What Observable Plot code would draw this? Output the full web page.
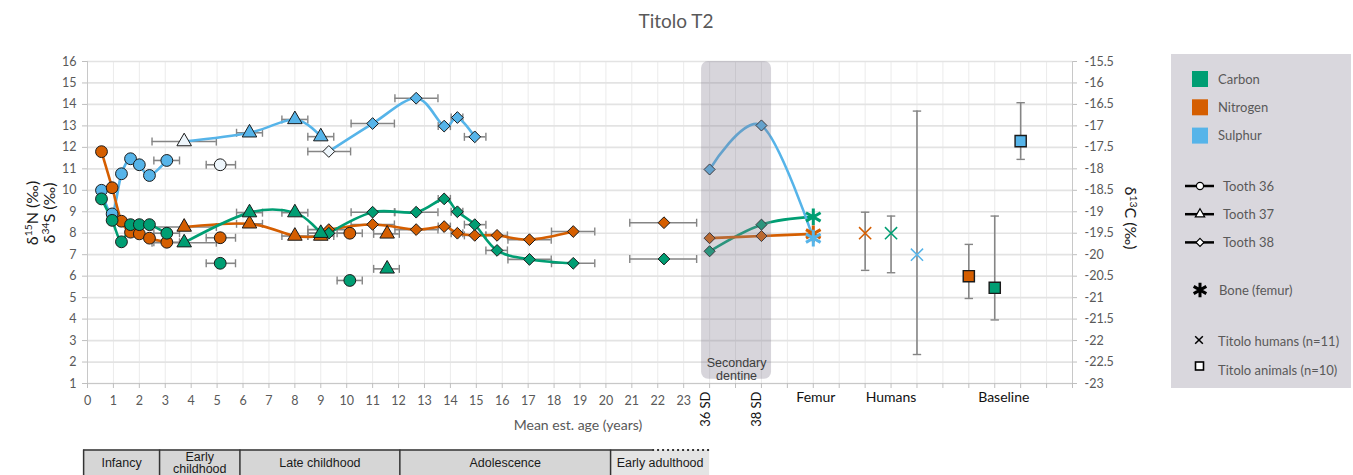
<!DOCTYPE html>
<html><head><meta charset="utf-8">
<script src="https://cdn.jsdelivr.net/npm/d3@7"></script>
<script src="https://cdn.jsdelivr.net/npm/@observablehq/plot@0.6"></script>
<style>
body{margin:0;background:#fff;font-family:Lato,sans-serif;}
#wrap{position:relative;width:1353px;height:475px;overflow:hidden;}
.abs{position:absolute;white-space:nowrap;}
.sup{font-size:0.65em;vertical-align:0.55em;}
</style></head><body><div id="wrap"></div>
<script>
// ---------------- DATA ----------------
const elements = ["Carbon", "Nitrogen", "Sulphur"];
const elementColors = ["#009E73", "#D55E00", "#56B4E9"];

// Tooth 36 (circles)
const t36Age    = [0.54, 0.95, 1.31, 1.66, 2.00, 2.39, 3.06, 5.12, 10.12];
const t36AgeMin = [null, null, null, null, null, null, 2.56, 4.58, 9.63];
const t36AgeMax = [null, null, null, null, null, null, 3.55, 5.71, 10.60];
const t36C = [-18.70, -19.20, -19.70, -19.30, -19.30, -19.30, -19.50, -20.20, -20.60];
const t36N = [11.80, 10.12, 8.56, 8.05, 7.97, 7.77, 7.58, 7.79, 8.00];
const t36S = [10.00, 8.90, 10.77, 11.47, 11.19, 10.69, 11.39, 11.19, null];
const t36Joined = 7;          // first samples joined by a line
const t36SPale = [7];         // pale (unfilled) sulphur samples

// Tooth 37 (triangles)
const t37Age    = [3.73, 6.25, 8.00, 9.00, 11.56];
const t37AgeMin = [2.49, 5.75, 7.50, 8.50, 11.04];
const t37AgeMax = [4.97, 6.75, 8.50, 9.50, 12.03];
const t37C = [-19.72, -19.02, -19.02, -19.50, -20.33];
const t37N = [8.29, 8.44, 7.87, 7.87, 7.97];
const t37S = [12.27, 12.68, 13.30, 12.50, null];
const t37Joined = 4;
const t37SPale = [0];

// Tooth 38 (diamonds)
const t38Age    = [9.31, 11.00, 12.68, 13.76, 14.27, 14.94, 15.80, 17.05, 18.74, 22.24];
const t38AgeMin = [8.50, 10.17, 11.86, 13.53, 14.03, 14.54, 15.37, 16.22, 17.90, 20.92];
const t38AgeMax = [10.15, 11.84, 13.52, 14.00, 14.48, 15.37, 16.20, 17.89, 19.57, 23.50];
const t38C = [-19.50, -19.01, -19.01, -18.70, -19.00, -19.30, -19.90, -20.11, -20.20, -20.10];
const t38N = [8.17, 8.41, 8.17, 8.31, 8.00, 7.90, 7.90, 7.70, 8.08, 8.49];
const t38S = [11.81, 13.11, 14.29, 12.99, 13.39, 12.49, null, null, null, null];
const t38Joined = 9;
const t38SJoined = 6;
const t38SPale = [0];

// Secondary dentine and femur
const sdLabels = ["36 SD", "38 SD", "Femur"];
const sdC = [-19.92, -19.30, -19.12];
const sdN = [7.77, 7.87, 7.97];
const sdS = [10.97, 13.02, 7.77];

// Titolo humans (n=11) and animals (n=10): mean, low, high  [C, N, S]
const humanMean = [-19.50, 8.00, 7.00];
const humanLow  = [-20.42, 6.27, 2.35];
const humanHigh = [-19.10, 8.98, 13.69];
const baseMean  = [-20.77, 6.00, 12.29];
const baseLow   = [-21.52, 4.96, 11.44];
const baseHigh  = [-19.10, 7.48, 14.08];

// Axis ticks / labels
const leftTicks = d3.range(1, 17);
const ageTicks = d3.range(0, 24);
const groupLabels = ["Femur", "Humans", "Baseline"];

// Life stages (years)
const stageNames = ["Infancy", "Early\nchildhood", "Late childhood", "Adolescence", "Early adulthood"];
const stageStart = [-0.15, 2.78, 5.88, 12.05, 20.18];
const stageEnd   = [2.78, 5.88, 12.05, 20.18, 24.0];

// ---------------- HELPERS ----------------
// carbon (right axis, ‰) expressed on the left-axis scale
const toLeft = (el, v) => el === "Carbon" ? 2 * v + 47 : v;
const fromLeft = (L) => (L - 47) / 2;

function build(tooth, ages, mins, maxs, vals, joined, pale) {
  const out = [];
  for (const el of ["Sulphur", "Nitrogen", "Carbon"]) {
    vals[el].forEach((v, i) => {
      if (v == null) return;
      out.push({tooth, element: el, age: ages[i], ageMin: mins[i], ageMax: maxs[i],
        y: toLeft(el, v), joined: i < joined[el], pale: (pale[el] || []).includes(i)});
    });
  }
  return out;
}
const t36 = build("36", t36Age, t36AgeMin, t36AgeMax, {Carbon: t36C, Nitrogen: t36N, Sulphur: t36S},
  {Carbon: t36Joined, Nitrogen: t36Joined, Sulphur: t36Joined}, {Sulphur: t36SPale});
const t37 = build("37", t37Age, t37AgeMin, t37AgeMax, {Carbon: t37C, Nitrogen: t37N, Sulphur: t37S},
  {Carbon: t37Joined, Nitrogen: t37Joined, Sulphur: t37Joined}, {Sulphur: t37SPale});
const t38 = build("38", t38Age, t38AgeMin, t38AgeMax, {Carbon: t38C, Nitrogen: t38N, Sulphur: t38S},
  {Carbon: t38Joined, Nitrogen: t38Joined, Sulphur: t38SJoined}, {Sulphur: t38SPale});
const teeth = [...t36, ...t37, ...t38];
const errRows = teeth.filter(d => d.ageMin != null);
const lineRows = teeth.filter(d => d.joined);

// category slots on the x axis (layout)
const sdSlot = [24, 26, 28];
const humanSlot = [31, 30, 32];
const baseSlot = [35, 34, 36];
const groupSlot = [28.1, 31, 35.35];

const sdRows = [];
[["Carbon", sdC], ["Nitrogen", sdN], ["Sulphur", sdS]].forEach(([el, arr]) =>
  arr.forEach((v, i) => sdRows.push({element: el, x: sdSlot[i], y: toLeft(el, v), femur: i === 2})));
const refRows = (mean, low, high, slot, kind) => elements.map((el, i) => ({
  element: el, kind, x: slot[i], y: toLeft(el, mean[i]), lo: toLeft(el, low[i]), hi: toLeft(el, high[i])}));
const humanRows = refRows(humanMean, humanLow, humanHigh, humanSlot, "human");
const baseRows = refRows(baseMean, baseLow, baseHigh, baseSlot, "base");
const refAll = [...humanRows, ...baseRows];

const stages = stageNames.map((n, i) => ({name: n, start: stageStart[i], end: stageEnd[i], last: i === stageNames.length - 1}));

// custom cap symbols
const vCap = {draw(ctx, size) { const r = Math.sqrt(size / Math.PI); ctx.moveTo(0, -r); ctx.lineTo(0, r); }};
const hCap = {draw(ctx, size) { const r = Math.sqrt(size / Math.PI); ctx.moveTo(-r, 0); ctx.lineTo(r, 0); }};

const ERR = "#858585";
const INK = "#1a1a1a";

function pts(tooth, symbol, r) {
  const rows = teeth.filter(d => d.tooth === tooth);
  return [
    Plot.dot(rows.filter(d => !d.pale), {x: "age", y: "y", symbol, r, fill: "element", stroke: INK, strokeWidth: 1}),
    Plot.dot(rows.filter(d => d.pale), {x: "age", y: "y", symbol, r, fill: "#eef6fc", stroke: INK, strokeWidth: 1})
  ];
}

// stage band vertical placement (below frame, in left-axis units)
const stageTop = -2.1, stageBottom = -3.8;

const chart = Plot.plot({
  width: 1353, height: 475,
  marginLeft: 87, marginRight: 281, marginTop: 61, marginBottom: 92,
  x: {domain: [0, 38]},
  y: {domain: [1, 16]},
  color: {domain: elements, range: elementColors},
  style: {fontFamily: "Lato, sans-serif", fontSize: "12.5px", background: "transparent", overflow: "visible"},
  marks: [
    Plot.gridX({ticks: d3.range(0, 39), stroke: "#ebebeb", strokeOpacity: 1}),
    Plot.gridY({ticks: leftTicks, stroke: "#e3e3e3", strokeOpacity: 1, strokeWidth: 1.7}),
    Plot.ruleY([1], {stroke: "#c8c8c8"}),
    Plot.ruleX([0, 38], {stroke: "#c8c8c8"}),

    // age error bars
    Plot.ruleY(errRows, {x1: "ageMin", x2: "ageMax", y: "y", stroke: ERR, strokeWidth: 1.6}),
    Plot.dot(errRows, {x: "ageMin", y: "y", symbol: vCap, r: 4, stroke: ERR, fill: "none", strokeWidth: 1.4}),
    Plot.dot(errRows, {x: "ageMax", y: "y", symbol: vCap, r: 4, stroke: ERR, fill: "none", strokeWidth: 1.4}),

    // smoothed lines
    Plot.line(lineRows, {x: "age", y: "y", z: d => d.tooth + d.element, stroke: "element", strokeWidth: 2.6, curve: "cardinal"}),
    Plot.line(sdRows, {x: "x", y: "y", z: "element", stroke: "element", strokeWidth: 2.6, curve: "cardinal"}),

    // points
    ...pts("38", "diamond2", 5.3),
    ...pts("37", "triangle", 5.4),
    ...pts("36", "circle", 5.9),
    Plot.dot(sdRows.filter(d => !d.femur), {x: "x", y: "y", symbol: "diamond2", r: 5.0, fill: "element", stroke: INK, strokeWidth: 1}),
    Plot.dot(sdRows.filter(d => d.femur), {x: "x", y: "y", symbol: "asterisk", r: 8, stroke: "element", strokeWidth: 3}),

    // humans / baseline vertical error bars
    Plot.ruleX(refAll, {x: "x", y1: "lo", y2: "hi", stroke: ERR, strokeWidth: 1.6}),
    Plot.dot(refAll, {x: "x", y: "lo", symbol: hCap, r: 4.2, stroke: ERR, fill: "none", strokeWidth: 1.4}),
    Plot.dot(refAll, {x: "x", y: "hi", symbol: hCap, r: 4.2, stroke: ERR, fill: "none", strokeWidth: 1.4}),
    Plot.dot(humanRows, {x: "x", y: "y", symbol: "times", r: 5.6, stroke: "element", strokeWidth: 1.5}),
    Plot.dot(baseRows, {x: "x", y: "y", symbol: "square", r: 6.3, fill: "element", stroke: INK, strokeWidth: 1.4}),

    // secondary dentine band
    Plot.rect([0], {x1: 23.69, x2: 26.39, y1: 1.2, y2: 16, fill: "#857e92", fillOpacity: 0.33, rx: 7}),
    Plot.text(["Secondary\ndentine"], {x: 25.04, y: 1.2, lineAnchor: "bottom", dy: 1, lineHeight: 1.05, fontSize: 12.5, fill: "#3c3c3c", fontFamily: "Liberation Sans, Arial, sans-serif"}),

    // axes
    Plot.axisX({ticks: d3.range(0, 39), tickFormat: d => d < ageTicks.length ? String(d) : "", tickSize: 5, tickPadding: 8, stroke: "#bfbfbf", fill: "#595959", fontSize: 12.5, label: null}),
    Plot.axisY({ticks: leftTicks, tickSize: 5, tickPadding: 6, stroke: "#bfbfbf", fill: "#595959", fontSize: 12.5, label: null}),
    Plot.axisY({anchor: "right", ticks: leftTicks, tickFormat: L => String(fromLeft(L)), tickSize: 4, tickPadding: 8, stroke: "#bfbfbf", fill: "#595959", fontSize: 12.5, label: null}),
    Plot.text(sdLabels.slice(0, 2), {x: (d, i) => sdSlot[i], frameAnchor: "bottom", rotate: -90, textAnchor: "end", dy: 8, fontSize: 13, fill: "#111"}),
    Plot.text(groupLabels, {x: (d, i) => groupSlot[i], frameAnchor: "bottom", dy: 18, fontSize: 14, fill: "#111"}),

    // life stages
    Plot.rect(stages, {x1: "start", x2: "end", y1: stageTop, y2: stageBottom, fill: d => d.last ? "#e4e4e4" : "#d6d6d6"}),
    Plot.ruleX(stages, {x: "start", y1: stageTop, y2: stageBottom, stroke: "#333", strokeWidth: 1.5}),
    Plot.ruleY([stageTop], {x1: stageStart[0], x2: 21.8, stroke: "#333", strokeWidth: 1.5}),
    Plot.ruleY([stageTop], {x1: 21.8, x2: 24.0, stroke: "#333", strokeWidth: 2, strokeDasharray: "2,3"}),
    Plot.text(stages, {x: d => (d.start + d.end) / 2, y: stageTop, dy: 13, text: "name", lineAnchor: "middle", lineHeight: 1.0, fontSize: 12.5, fill: "#1a1a1a", fontFamily: "Liberation Sans, Arial, sans-serif"})
  ]
});

const wrap = document.getElementById("wrap");
chart.style.position = "absolute";
chart.style.left = "0px";
chart.style.top = "0px";
wrap.appendChild(chart);

// ---------------- HTML TEXT ----------------
function addText(html, x, y, css, rot) {
  const d = document.createElement("div");
  d.className = "abs";
  d.innerHTML = html;
  d.style.left = x + "px";
  d.style.top = y + "px";
  d.style.transform = `translate(-50%,-50%)${rot ? ` rotate(${rot}deg)` : ""}`;
  Object.assign(d.style, css);
  wrap.appendChild(d);
}
addText("Titolo T2", 676, 20, {fontSize: "19px", color: "#595959"});
addText("Mean est. age (years)", 578, 424, {fontSize: "14px", color: "#595959"});
addText("δ<span class='sup'>15</span>N (‰)", 31, 213, {fontSize: "16px", color: "#1a1a1a"}, -90);
addText("δ<span class='sup'>34</span>S (‰)", 48, 213, {fontSize: "16px", color: "#1a1a1a"}, -90);
addText("δ<span class='sup'>13</span>C (‰)", 1131, 218, {fontSize: "16px", color: "#1a1a1a"}, 90);

// ---------------- LEGEND ----------------
const legendColorItems = elements;
const legendToothItems = ["Tooth 36", "Tooth 37", "Tooth 38"];
const legendToothSymbols = ["circle", "triangle", "diamond2"];
const legendOtherItems = ["Bone (femur)", "Titolo humans (n=11)", "Titolo animals (n=10)"];

const lg = d3.select(wrap).append("svg")
  .attr("width", 182).attr("height", 336)
  .style("position", "absolute").style("left", "1170px").style("top", "53px")
  .style("font-family", "Lato, sans-serif").style("font-size", "13px");
lg.append("rect").attr("x", 1).attr("y", 1).attr("width", 180).attr("height", 334).attr("fill", "#d9d7dd");
const ox = 1170, oy = 53;
legendColorItems.forEach((name, i) => {
  const cy = 79 + i * 28.3 - oy;
  lg.append("rect").attr("x", 1192 - ox).attr("y", cy - 8).attr("width", 16).attr("height", 16).attr("fill", elementColors[i]);
  lg.append("text").attr("x", 1218 - ox).attr("y", cy).attr("dy", "0.35em").attr("fill", "#595959").text(name);
});
legendToothItems.forEach((name, i) => {
  const cy = 186 + i * 28.2 - oy;
  lg.append("line").attr("x1", 1185 - ox).attr("x2", 1214 - ox).attr("y1", cy).attr("y2", cy).attr("stroke", "#000").attr("stroke-width", 2.5);
  const sym = {circle: d3.symbolCircle, triangle: d3.symbolTriangle, diamond2: d3.symbolDiamond2}[legendToothSymbols[i]];
  lg.append("path").attr("d", d3.symbol(sym, i === 1 ? 38 : 40)()).attr("transform", `translate(${1200 - ox},${cy})`)
    .attr("fill", "#fff").attr("stroke", "#000").attr("stroke-width", 1.2);
  lg.append("text").attr("x", 1223 - ox).attr("y", cy).attr("dy", "0.35em").attr("fill", "#595959").text(name);
});
// bone
lg.append("path").attr("d", d3.symbol(d3.symbolAsterisk, 150)()).attr("transform", `translate(${1200 - ox},${290 - oy})`)
  .attr("fill", "none").attr("stroke", "#000").attr("stroke-width", 3);
lg.append("text").attr("x", 1219 - ox).attr("y", 290 - oy).attr("dy", "0.35em").attr("fill", "#595959").text(legendOtherItems[0]);
lg.append("path").attr("d", d3.symbol(d3.symbolTimes, 40)()).attr("transform", `translate(${1199 - ox},${340 - oy})`)
  .attr("fill", "none").attr("stroke", "#000").attr("stroke-width", 1.5);
lg.append("text").attr("x", 1218 - ox).attr("y", 341 - oy).attr("dy", "0.35em").attr("fill", "#595959").text(legendOtherItems[1]);
lg.append("rect").attr("x", 1195.5 - ox).attr("y", 362 - oy).attr("width", 8).attr("height", 8)
  .attr("fill", "#fff").attr("stroke", "#000").attr("stroke-width", 1.6);
lg.append("text").attr("x", 1218 - ox).attr("y", 370 - oy).attr("dy", "0.35em").attr("fill", "#595959").text(legendOtherItems[2]);
</script></body></html>
